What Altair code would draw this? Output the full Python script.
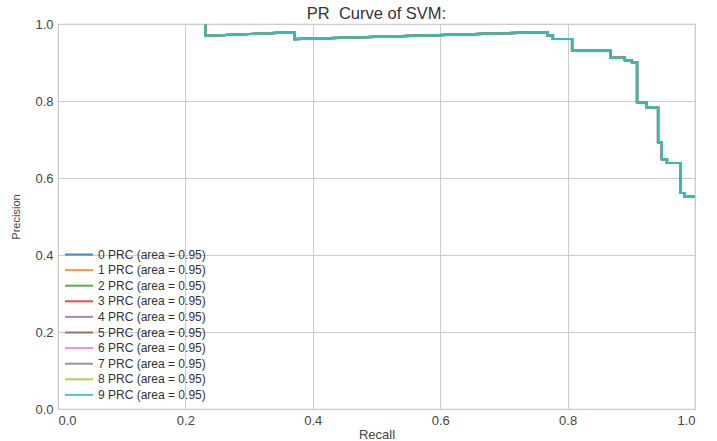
import altair as alt
import pandas as pd

# class labels and PR area per class
classes = ["0", "1", "2", "3", "4", "5", "6", "7", "8", "9"]
areas = [0.95, 0.95, 0.95, 0.95, 0.95, 0.95, 0.95, 0.95, 0.95, 0.95]

# PR curve (identical for every class)
recall = [0.231, 0.231, 0.371, 0.371, 0.768, 0.768, 0.777, 0.777, 0.807, 0.807,
          0.867, 0.867, 0.890, 0.890, 0.901, 0.901, 0.909, 0.909, 0.924, 0.924,
          0.934, 0.934, 0.942, 0.942, 0.948, 0.948, 0.956, 0.956, 0.977, 0.977,
          0.984, 0.984, 1.0]
precision = [1.0, 0.969, 0.979, 0.961, 0.979, 0.971, 0.971, 0.961, 0.961, 0.930,
             0.930, 0.912, 0.912, 0.906, 0.906, 0.901, 0.901, 0.797, 0.797, 0.784,
             0.784, 0.782, 0.782, 0.693, 0.693, 0.649, 0.649, 0.639, 0.639, 0.561,
             0.561, 0.551, 0.553]

colors = ["#1f77b4", "#ff7f0e", "#2ca02c", "#d62728", "#9467bd",
          "#8c564b", "#e377c2", "#7f7f7f", "#bcbd22", "#17becf"]

labels = [f"{c} PRC (area = {a:.2f})" for c, a in zip(classes, areas)]

rows = []
for k, lab in enumerate(labels):
    for i, (r, p) in enumerate(zip(recall, precision)):
        rows.append({"series": lab, "k": k, "idx": i, "Recall": r, "Precision": p})
df = pd.DataFrame(rows)

FONT = "Liberation Sans"

chart = alt.Chart(df).mark_line(strokeWidth=2.2, interpolate="linear", opacity=0.82).encode(
    x=alt.X("Recall:Q", scale=alt.Scale(domain=[0, 1], nice=False),
            axis=alt.Axis(values=[0, 0.2, 0.4, 0.6, 0.8, 1.0], format=".1f",
                          title="Recall")),
    y=alt.Y("Precision:Q", scale=alt.Scale(domain=[0, 1], nice=False),
            axis=alt.Axis(values=[0, 0.2, 0.4, 0.6, 0.8, 1.0], format=".1f",
                          title="Precision")),
    color=alt.Color("series:N",
                    scale=alt.Scale(domain=labels, range=colors),
                    sort=labels,
                    legend=alt.Legend(title=None, orient="none", legendX=6, legendY=224,
                                      symbolType="stroke", symbolSize=784,
                                      symbolStrokeWidth=2, clipHeight=13,
                                      rowPadding=2.6, labelFontSize=12,
                                      labelFont=FONT, labelColor="#333333",
                                      labelOffset=4, padding=0)),
    order=alt.Order("idx:Q"),
).properties(
    width=637,
    height=385,
    title=alt.TitleParams("PR \u00a0Curve of SVM:", fontSize=16.5, font=FONT,
                          fontWeight="normal", color="#333333", offset=-4),
    autosize=alt.AutoSizeParams(type="none"),
    padding={"left": 58, "top": 24, "right": 22, "bottom": 32},
).configure_view(
    stroke="#c8c8c8", strokeWidth=1.2
).configure_axis(
    grid=True, gridColor="#cccccc", gridWidth=1, domain=False, ticks=False,
    labelFont=FONT, labelFontSize=13, labelColor="#444444", labelPadding=5,
    titleFont=FONT, titleColor="#444444", titleFontWeight="normal",
).configure_axisX(
    titlePadding=1, titleFontSize=13
).configure_axisY(
    titlePadding=13, titleFontSize=11
)

chart.save("out.html", embed_options={"renderer": "svg", "actions": False})
